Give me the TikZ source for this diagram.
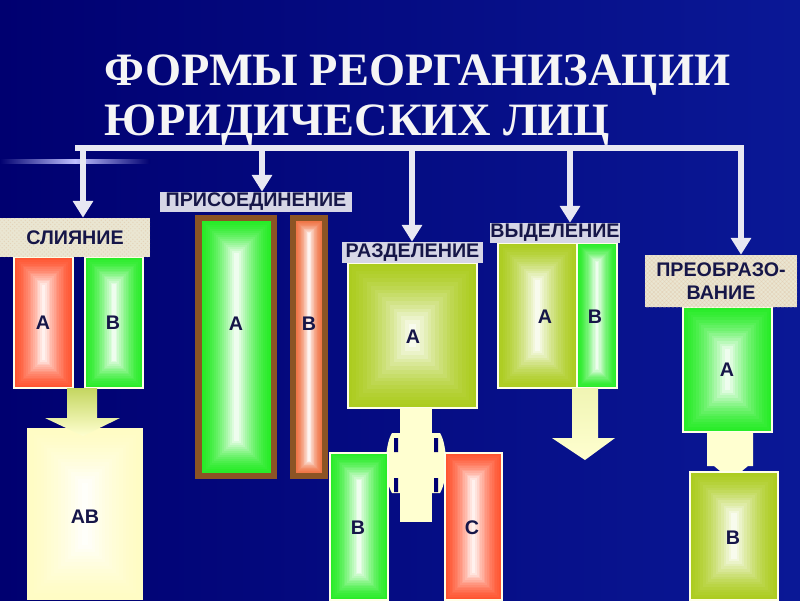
\documentclass[tikz,border=0pt]{standalone}
\usepackage{fontspec}
\setmainfont{Liberation Serif}
\newfontfamily\lsans{Liberation Sans}
\usetikzlibrary{arrows.meta,patterns}

\definecolor{bgnavy}{RGB}{0,0,112}
\definecolor{bglight}{RGB}{10,24,150}
\definecolor{inkblue}{RGB}{22,22,72}
\definecolor{wirewhite}{RGB}{232,232,242}
\definecolor{lblgray}{RGB}{214,214,230}
\definecolor{lblbeige}{RGB}{234,230,210}
\definecolor{boxred}{RGB}{255,84,48}
\definecolor{boxgreen}{RGB}{40,236,40}
\definecolor{boxolive}{RGB}{172,204,32}
\definecolor{boxorange}{RGB}{240,118,72}
\definecolor{boxbrown}{RGB}{140,84,36}
\definecolor{boxcream}{RGB}{255,252,196}
\definecolor{paleyel}{RGB}{255,255,208}
\definecolor{arrowgreen}{RGB}{196,214,96}

\tikzset{
  wire/.style={wirewhite, line width=3.6pt, -{Triangle[width=14pt,length=12pt]}},
  hdr/.style={fill=lblgray, inner sep=0pt, text=inkblue, align=center,
    font=\lsans\bfseries\fontsize{14}{16}\selectfont},
  letter/.style={text=inkblue, font=\lsans\bfseries\fontsize{14}{16}\selectfont},
  rim/.style={draw=paleyel!50!white, line width=1.8pt},
  titletext/.style={anchor=base west, text=white!92!gray, font=\bfseries\fontsize{33}{36}\selectfont},
}

% glowing box: [outline]{x1}{y1}{x2}{y2}{colour}
\newcommand\glowbox[6][]{%
  \fill[#6] (#2,#3) rectangle (#4,#5);
  \pgfmathsetmacro\halfside{min(#4-#2,#5-#3)/2}
  \foreach \k in {1,...,16}{
    \pgfmathsetmacro\dd{\halfside*\k/17}
    \pgfmathtruncatemacro\mix{100-92*(\k/16)^1.5}
    \fill[#6!\mix!white] (#2+\dd,#3+\dd) rectangle (#4-\dd,#5-\dd);
  }
  \path[#1] (#2,#3) rectangle (#4,#5);
}

\begin{document}
\begin{tikzpicture}[x=0.025cm,y=-0.025cm]
  \useasboundingbox (0,0) rectangle (800,600);
  \shade[left color=bgnavy, right color=bglight] (0,0) rectangle (800,600);
  \shade[left color=bgnavy, right color=bgnavy, middle color=blue!25!white] (0,159) rectangle (150,163);

  % Title
  \node[titletext] (title1) at (100,85) {ФОРМЫ РЕОРГАНИЗАЦИИ};
  \node[titletext] (title2) at (100,135) {ЮРИДИЧЕСКИХ ЛИЦ};

  % Слияние
  \glowbox[rim]{14}{257}{73}{388}{boxred}
  \node[letter] (slA) at (43,323) {А};
  \glowbox[rim]{85}{257}{143}{388}{boxgreen}
  \node[letter] (slB) at (113,323) {В};
  \glowbox{27}{428}{143}{600}{boxcream}
  \node[letter] (slAB) at (85,517) {АВ};
  \shade[top color=arrowgreen, bottom color=paleyel]
    (67,388) -- (97,388) -- (97,418) -- (120,418) -- (83,436) -- (45,418) -- (67,418) -- cycle;

  % Присоединение
  \fill[boxbrown] (195,215) rectangle (277,479);
  \glowbox{202}{221}{271}{473}{boxgreen}
  \node[letter] (prA) at (236,324) {А};
  \fill[boxbrown] (290,215) rectangle (328,479);
  \glowbox{296}{221}{322}{473}{boxorange}
  \node[letter] (prB) at (309,324) {В};

  % Разделение
  \glowbox[rim]{348}{263}{477}{408}{boxolive}
  \node[letter] (rzA) at (413,337) {А};
  \fill[paleyel] (400,408) rectangle (432,522);
  \fill[paleyel] (392,433) .. controls (384,446) and (384,480) .. (392,493) -- (440,493)
    .. controls (448,480) and (448,446) .. (440,433) -- cycle;
  \fill[bgnavy] (394,438) rectangle (398,452) (394,478) rectangle (398,492)
    (434,438) rectangle (438,452) (434,478) rectangle (438,492);
  \glowbox[rim]{330}{453}{388}{600}{boxgreen}
  \node[letter] (rzB) at (358,528) {В};
  \glowbox[rim]{445}{453}{502}{600}{boxred}
  \node[letter] (rzC) at (472,528) {С};

  % Выделение
  \glowbox{498}{243}{577}{388}{boxolive}
  \node[letter] (vdA) at (545,317) {А};
  \glowbox{577}{243}{617}{388}{boxgreen}
  \node[letter] (vdB) at (595,317) {В};
  \draw[rim] (498,243) rectangle (617,388) (577,243) -- (577,388);
  \shade[top color=paleyel!75!arrowgreen, bottom color=paleyel]
    (572,388) -- (598,388) -- (598,438) -- (615,438) -- (585,460) -- (552,438) -- (572,438) -- cycle;

  % Преобразование
  \glowbox[rim]{683}{307}{772}{432}{boxgreen}
  \node[letter] (pbA) at (727,370) {А};
  \fill[paleyel] (707,432) -- (753,432) -- (753,466) -- (748,466) -- (731,480) -- (714,466) -- (707,466) -- cycle;
  \glowbox[rim]{690}{472}{778}{600}{boxolive}
  \node[letter] (pbB) at (733,538) {В};

  % Labels
  \node[hdr, fill=lblbeige, minimum width=3.75cm, minimum height=0.975cm,
    postaction={pattern=crosshatch dots, pattern color=brown!60, opacity=0.35}]
    (slLbl) at (75,237.5) {СЛИЯНИЕ};
  \node[hdr, minimum width=4.8cm, minimum height=0.5cm] (prLbl) at (256,202) {ПРИСОЕДИНЕНИЕ};
  \node[hdr, minimum width=3.525cm, minimum height=0.525cm] (rzLbl) at (412.5,252.5) {РАЗДЕЛЕНИЕ};
  \node[hdr, minimum width=3.25cm, minimum height=0.5cm] (vdLbl) at (555,233) {ВЫДЕЛЕНИЕ};
  \node[hdr, fill=lblbeige, minimum width=3.8cm, minimum height=1.3cm,
    postaction={pattern=north east lines, pattern color=brown!50, opacity=0.35},
    postaction={pattern=north west lines, pattern color=brown!50, opacity=0.35}]
    (pbLbl) at (721,281) {ПРЕОБРАЗО-\\ВАНИЕ};

  % Wiring
  \coordinate (barL) at (75,148);
  \coordinate (barR) at (741,148);
  \coordinate (t1) at (83,148);
  \coordinate (t2) at (262,148);
  \coordinate (t3) at (412,148);
  \coordinate (t4) at (570,148);
  \draw[wire] (barL) -- (barR) -- (barR |- pbLbl.north);
  \draw[wire] (t1) -- (t1 |- slLbl.north);
  \draw[wire] (t2) -- (t2 |- prLbl.north);
  \draw[wire] (t3) -- (t3 |- rzLbl.north);
  \draw[wire] (t4) -- (t4 |- vdLbl.north);
\end{tikzpicture}
\end{document}
